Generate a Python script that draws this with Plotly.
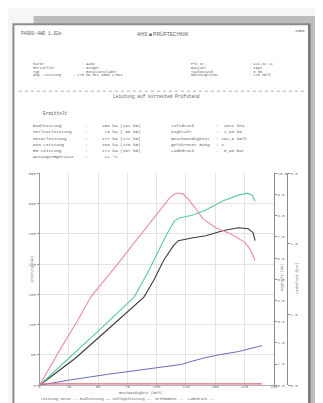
import plotly.graph_objects as go

W, H = 323, 403

# ---------------- data ----------------
speed_motor = [0, 26.9, 52.1, 80.7, 91.6, 100, 108.4, 115.1, 119.3, 131.1, 142, 156.3, 169.7, 177.3, 181.5, 184]
power_motor = [0, 47.4, 93.2, 145.6, 183.2, 215.9, 248.6, 271.5, 276.4, 281.3, 289.5, 304.2, 314, 317.3, 314, 304.2]

speed_rad = [0, 30.3, 58, 89.1, 97.5, 105.9, 114.3, 118.5, 131.1, 142, 156.3, 169.7, 178.1, 182.3, 184]
power_rad = [0, 44.2, 91.6, 145.6, 173.4, 206.1, 230.6, 238.8, 243.7, 247, 255.1, 260.1, 258.5, 252, 238.8]

speed_torque = [0, 16, 32.8, 43.7, 66.4, 83.2, 101.7, 110.9, 115.1, 118.5, 122.7, 127.7, 133.6, 139.5, 150.4, 163, 175.6, 179.8, 184]
torque = [0, 1.54, 3.08, 4.16, 5.70, 6.87, 8.18, 8.83, 9.02, 9.07, 9.02, 8.74, 8.32, 7.85, 7.43, 7.15, 6.73, 6.40, 5.89]

speed_drag = [0, 24.4, 58, 100, 121, 129.4, 142, 154.6, 169.7, 189.9]
power_drag = [0, 8.2, 18, 29.4, 34.3, 39.3, 45.8, 50.7, 55.6, 65.4]

speed_boost = [0, 60, 120, 190]
boost = [0.02, 0.02, 0.02, 0.02]

x_ticks = [0, 25, 50, 75, 100, 125, 150, 175, 200]
y_ticks = [0, 50, 100, 150, 200, 250, 300, 350]
y2_ticks = [0, 1, 2, 3, 4, 5, 6, 7, 8, 9, 10]
y3_ticks = [0, 1, 2, 3]

info_left = [("Marke", ": AUDI"), ("Hersteller", ": Rieger"), ("Typ", ": Rotationslader"),
             ("Ang. Leistung", ": 175 kW bei 4000 1/min")]
info_right = [("Pfz Nr.", ": XXX-XX 11"), ("Baujahr", ": 1997"), ("Tachostand", ": 0 km"),
              ("Höchstgeschw.", ": 170 km/h")]
res_left = [("Radleistung", ":", "158 kW (141 km)"), ("Verlustleistung", ":", " 23 kW ( 56 km)"),
            ("Motorleistung", ":", "177 kW (172 km)"), ("DIN Leistung", ":", "168 kW (176 km)"),
            ("EG Leistung", ":", "172 kW (167 km)"), ("Ansaugtemperatur", ":", " 22 °C")]
res_right = [("Luftdruck", ":  1021 hPa"), ("Zugkraft", ":  2,83 kN"),
             ("Geschwindigkeit", ": 182,6 km/h"), ("gefahrener Gang", ": 4"),
             ("Ladedruck", ":  0,93 bar")]

# ---------------- helpers ----------------
def px(x):
    return x / W

def py(y):
    return 1 - y / H

MONO = "Liberation Mono, DejaVu Sans Mono, monospace"
TXT = "#5e5e5e"

GREEN = "#5fc7a2"
BLACK = "#3a3a3a"
PINK = "#ec8f9c"
BLUE = "#6e6cb8"
RED = "#e2677a"

fig = go.Figure()
fig.add_trace(go.Scatter(x=speed_drag, y=power_drag, mode="lines", line=dict(color=BLUE, width=1), yaxis="y"))
fig.add_trace(go.Scatter(x=speed_rad, y=power_rad, mode="lines", line=dict(color=BLACK, width=1.1), yaxis="y"))
fig.add_trace(go.Scatter(x=speed_motor, y=power_motor, mode="lines", line=dict(color=GREEN, width=1.1), yaxis="y"))
fig.add_trace(go.Scatter(x=speed_torque, y=torque, mode="lines", line=dict(color=PINK, width=1.1), yaxis="y2"))
fig.add_trace(go.Scatter(x=speed_boost, y=boost, mode="lines", line=dict(color=RED, width=1.2), yaxis="y3"))

shapes = []
# page background elements
shapes.append(dict(type="rect", xref="paper", yref="paper", x0=px(25), x1=px(323), y0=py(15), y1=py(6),
                   fillcolor="#bdbdbd", line=dict(width=0), layer="below"))
shapes.append(dict(type="rect", xref="paper", yref="paper", x0=px(305), x1=px(323), y0=py(399), y1=py(6),
                   fillcolor="#bdbdbd", line=dict(width=0), layer="below"))
shapes.append(dict(type="rect", xref="paper", yref="paper", x0=px(4.5), x1=px(305), y0=py(405), y1=py(14.5),
                   fillcolor="#ffffff", line=dict(color="#8c8c8c", width=2), layer="below"))
shapes.append(dict(type="line", xref="paper", yref="paper", x0=px(305), x1=px(305), y0=py(405), y1=py(14),
                   line=dict(color="#7a7a7a", width=2.5), layer="below"))
# dashed separator
shapes.append(dict(type="line", xref="paper", yref="paper", x0=px(10), x1=px(300), y0=py(82), y1=py(82),
                   line=dict(color="#9a9a9a", width=0.8, dash="dot"), layer="below"))

ann = []
def T(x, y, s, size=4, anchor="left", color=TXT, angle=0, font=MONO):
    ann.append(dict(x=px(x), y=py(y), xref="paper", yref="paper", text=s, showarrow=False,
                    xanchor=anchor, yanchor="middle", textangle=angle,
                    font=dict(size=size, color=color, family=font)))

T(10, 24, "P4000-4WD 1.02e", 4.5)
T(156, 24, "AHS <b>■</b> PRÜFTECHNIK", 5, anchor="center", font="Liberation Sans, Arial, sans-serif")
T(303, 21, "1090", 4, anchor="right")

for i, (a, b) in enumerate(info_left):
    yy = 55 + i * 3.7
    T(22, yy, a, 3.6)
    T(72 if i < 3 else 63, yy, b, 3.6)
for i, (a, b) in enumerate(info_right):
    yy = 55 + i * 3.7
    T(183, yy, a, 3.6)
    T(242, yy, b, 3.6)

T(150, 87, "Leistung auf kürzestem Prüfstand", 4.5, anchor="center")
T(33, 105, "Ermittelt", 4.5)

for i, (a, c, v) in enumerate(res_left):
    yy = 117 + i * 6.2
    T(22, yy, a, 4.3)
    T(75, yy, c, 4.3)
    T(92, yy, v, 4.3)
for i, (a, b) in enumerate(res_right):
    yy = 117 + i * 6.2
    T(163, yy, a, 4.3)
    T(208, yy, b, 4.3)

# axis titles
T(24, 262, "Leistung (kW)", 3.5, anchor="center", angle=-90)
T(278, 270, "Zugkraft (kN)", 3.5, anchor="center", angle=-90)
T(293, 270, "Ladedruck (bar)", 3.5, anchor="center", angle=-90)
T(134, 387, "Geschwindigkeit (km/h)", 3.3, anchor="center")

legend_txt = ("Leistung Motor <span style='color:%s'>——</span> Radleistung <span style='color:%s'>——</span> "
              "Schleppleistung <span style='color:%s'>——</span>  Drehmoment <span style='color:%s'>——</span>  "
              "Ladedruck <span style='color:%s'>——</span>") % (GREEN, BLACK, BLUE, PINK, RED)
T(30, 393, legend_txt, 3.6)

X0, X1 = 31, 269
Y0, Y1 = 379, 165
axis_font = dict(size=4, color="#707070", family=MONO)
grid = "#e3e3e3"

fig.update_layout(
    width=W, height=H,
    margin=dict(l=0, r=0, t=0, b=0),
    paper_bgcolor="#f6f6f6",
    plot_bgcolor="rgba(0,0,0,0)",
    showlegend=False,
    shapes=shapes,
    annotations=ann,
    xaxis=dict(domain=[px(X0), px(X1)], range=[0, 200], tickvals=x_ticks,
               ticktext=[str(v) for v in x_ticks], tickfont=axis_font, ticklabelstandoff=-3,
               showgrid=True, gridcolor=grid, gridwidth=0.8, zeroline=False,
               showline=True, linecolor="#b0b0b0", linewidth=0.8, ticks="", fixedrange=True),
    yaxis=dict(domain=[py(Y0), py(Y1)], range=[0, 350], tickvals=y_ticks,
               ticktext=[str(v) for v in y_ticks], tickfont=axis_font,
               showgrid=True, gridcolor=grid, gridwidth=0.8, zeroline=False,
               showline=True, linecolor="#9a9a9a", linewidth=0.8, ticks="outside", ticklen=2,
               tickcolor="#9a9a9a"),
    yaxis2=dict(overlaying="y", side="right", anchor="x", range=[0, 10], tickvals=y2_ticks,
                ticktext=["%.1f" % v for v in y2_ticks], tickfont=axis_font, showgrid=False,
                zeroline=False, showline=True, linecolor="#8a8a8a", linewidth=0.8,
                ticks="outside", ticklen=2, tickcolor="#8a8a8a"),
    yaxis3=dict(overlaying="y", side="right", anchor="free", position=px(282), range=[0, 3],
                tickvals=y3_ticks, ticktext=["%.1f" % v for v in y3_ticks], tickfont=axis_font,
                showgrid=False, zeroline=False, showline=True, linecolor="#8a8a8a", linewidth=0.8,
                ticks="outside", ticklen=2, tickcolor="#8a8a8a"),
)

fig.write_html("out.html")
